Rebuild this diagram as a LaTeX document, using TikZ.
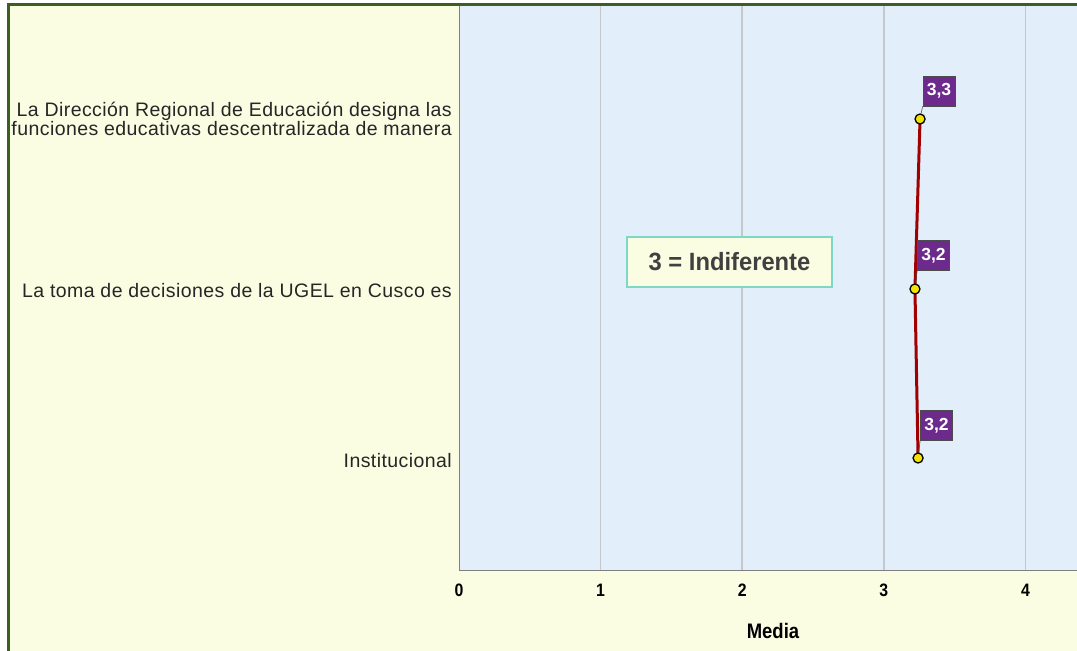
\documentclass[tikz,border=0pt]{standalone}
\usepackage{fontspec}
\setmainfont{Liberation Sans}
\newfontfamily\catfont[LetterSpace=2.2]{Liberation Sans}
\newfontfamily\narrowfont[FakeStretch=0.88]{Liberation Sans}
\newfontfamily\notefont[FakeStretch=0.95]{Liberation Sans}
\usetikzlibrary{positioning}

\definecolor{chartbg}{HTML}{FAFDE2}
\definecolor{plotbg}{HTML}{E2EEFA}
\definecolor{gridgray}{HTML}{C4C8CC}
\definecolor{axisgray}{HTML}{7F7F7F}
\definecolor{framegreen}{HTML}{3C5E22}
\definecolor{meanred}{HTML}{A00000}
\definecolor{dotyellow}{HTML}{F2E400}
\definecolor{valpurple}{HTML}{6C2B8C}
\definecolor{notegreen}{HTML}{7DD8C6}
\definecolor{notetext}{HTML}{404040}

\tikzset{
  catlabel/.style={anchor=east, align=right, inner sep=0pt, text=black!85,
    font=\catfont\fontsize{19.5}{18}\selectfont},
  ticklabel/.style={font=\narrowfont\bfseries\fontsize{18}{20}\selectfont},
  meandot/.style={circle, draw=black, fill=dotyellow, line width=1.3pt, minimum size=10pt, inner sep=0pt},
  valuebox/.style={fill=valpurple, draw=black!70, line width=0.8pt, text=white, inner sep=2pt,
    minimum width=32pt, minimum height=30pt, font=\bfseries\fontsize{17.5}{19}\selectfont},
}

\begin{document}
\begin{tikzpicture}[x=1pt, y=-1pt]

\useasboundingbox (0,0) rectangle (1077,651);
\fill[white] (0,0) rectangle (1077,651);
\fill[chartbg] (8,4) rectangle (1077,651);

% Plot area and grid
\fill[plotbg] (459,6) rectangle (1077,570);
\foreach \v in {1,...,4}
  \draw[gridgray, line width=1.5pt] ({459+141.6*\v},6) -- ({459+141.6*\v},570);
\draw[axisgray, line width=1pt] (459,6) -- (459,570) -- (1077,570);

% Axis ticks and title
\foreach \v in {0,...,4}
  \node[ticklabel] (tick\v) at ({459+141.6*\v},590) {\v};
\node[ticklabel, font=\narrowfont\bfseries\fontsize{21}{23}\selectfont] (xtitle) at (773,631) {Media};

% Category labels
\node[catlabel] (cat1) at (452,119) {La Dirección Regional de Educación designa las\\funciones educativas descentralizada de manera};
\node[catlabel] (cat2) at (452,291) {La toma de decisiones de la UGEL en Cusco es};
\node[catlabel] (cat3) at (452,461) {Institucional};

% Note box
\node[draw=notegreen, fill=chartbg, line width=1.5pt, minimum width=205pt, minimum height=50pt,
  text=notetext, font=\notefont\bfseries\fontsize{25}{27}\selectfont] (note) at (729.5,262) {3 = Indiferente};

% Means
\coordinate (m1) at ({459+141.6*3.256},119);
\coordinate (m2) at ({459+141.6*3.22},289);
\coordinate (m3) at ({459+141.6*3.242},458);
\draw[meanred, line width=3pt] (m1) -- (m2) -- (m3);
\node[meandot] (p1) at (m1) {};
\node[meandot] (p2) at (m2) {};
\node[meandot] (p3) at (m3) {};

% Value labels
\node[valuebox] (v1) at (939,91) {3,3};
\node[valuebox] (v2) at (933.5,255.5) {3,2};
\node[valuebox] (v3) at (936.5,425.5) {3,2};
\draw[black!70, line width=0.6pt] (p1) -- (v1.south west);
\draw[black!70, line width=0.6pt] (p2) -- (v2.south west);
\draw[black!70, line width=0.6pt] (p3) -- (v3.south west);

% Frame
\draw[framegreen, line width=3pt] (8.5,651) -- (8.5,4.5) -- (1077,4.5);

\end{tikzpicture}
\end{document}
